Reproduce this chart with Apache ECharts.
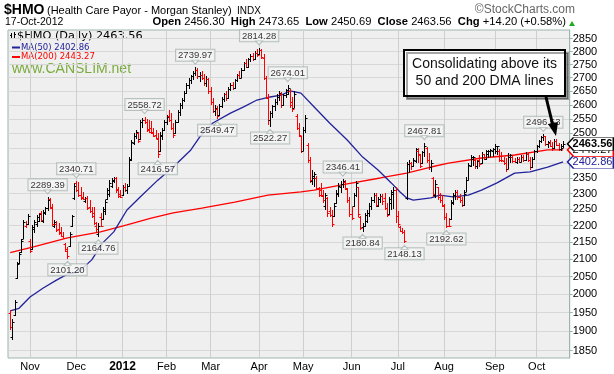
<!DOCTYPE html>
<html><head><meta charset="utf-8">
<script src="https://cdn.jsdelivr.net/npm/echarts@6/dist/echarts.min.js"></script>
<style>html,body{margin:0;padding:0;background:#fff}#c{width:614px;height:374px}</style>
</head><body><div id="c"></div>
<script>
// ---- Daily OHLC bars [open, high, low, close] ----
const oct11 = [[1950,1958,1905,1912],[1885,1932,1878,1925],[1945,1985,1940,1978],[2045,2092,2043,2085],[2088,2120,2085,2115],[2120,2160,2117,2155],[2160,2217,2160,2210],[2200,2214,2193,2205],[2205,2236,2202,2230]];
const nov11 = [[2155,2160,2117,2125],[2130,2202,2128,2195],[2190,2217,2178,2210],[2205,2232,2196,2225],[2215,2240,2210,2235],[2238,2245,2212,2218],[2215,2248,2208,2242],[2240,2257,2232,2254],[2255,2289.39,2245,2280],[2282,2286,2250,2258],[2255,2268,2200,2205],[2200,2217,2193,2212],[2205,2215,2182,2186],[2190,2208,2172,2178],[2180,2195,2165,2168],[2170,2180,2162,2164],[2145,2147,2121,2125],[2130,2135,2101.20,2108],[2140,2180,2136,2175],[2200,2232,2196,2228],[2285,2333,2279,2325]];
const dec11 = [[2335,2340.71,2305,2310],[2310,2337,2289,2295],[2295,2320,2279,2285],[2290,2305,2279,2282],[2275,2289,2270,2287],[2285,2292,2248,2255],[2258,2279,2240,2245],[2245,2257,2223,2228],[2240,2257,2202,2208],[2200,2212,2178,2190],[2175,2207,2164.76,2200],[2225,2240,2196,2198],[2220,2257,2217,2250],[2245,2279,2232,2272],[2282,2318,2279,2312],[2300,2343,2289,2335],[2325,2350,2318,2345],[2340,2353,2334,2350],[2350,2353,2302,2310],[2315,2320,2286,2292],[2300,2311,2286,2290]];
const jan12 = [[2295,2327,2292,2322],[2320,2333,2305,2312],[2312,2330,2300,2325],[2325,2420,2320,2410],[2412,2477,2405,2470],[2468,2500,2460,2492],[2490,2511,2480,2505],[2500,2505,2468,2475],[2480,2546,2478,2540],[2538,2552,2520,2548],[2545,2558.72,2532,2540],[2540,2550,2505,2512],[2515,2546,2500,2505],[2520,2542,2498,2500],[2505,2518,2487,2490],[2495,2511,2482,2485],[2482,2500,2416.57,2430],[2440,2504,2435,2495],[2490,2518,2477,2510],[2512,2546,2508,2540]];
const feb12 = [[2540,2564,2530,2558],[2560,2582,2540,2548],[2548,2570,2511,2520],[2520,2535,2484,2495],[2500,2546,2498,2540],[2540,2582,2535,2575],[2575,2607,2560,2600],[2600,2625,2585,2618],[2618,2650,2610,2645],[2645,2680,2640,2672],[2672,2700,2660,2690],[2690,2712,2675,2705],[2705,2725,2690,2718],[2718,2739.97,2705,2730],[2728,2735,2695,2705],[2705,2720,2685,2712],[2712,2725,2690,2698],[2698,2715,2670,2680],[2680,2705,2665,2695],[2695,2700,2640,2650]];
const mar12 = [[2650,2665,2600,2610],[2610,2625,2570,2580],[2580,2600,2560,2590],[2585,2595,2549.47,2560],[2565,2605,2560,2598],[2598,2630,2590,2622],[2622,2645,2610,2640],[2640,2650,2615,2625],[2625,2665,2620,2660],[2660,2680,2650,2672],[2672,2685,2655,2662],[2662,2695,2658,2690],[2690,2715,2685,2710],[2710,2725,2695,2700],[2700,2735,2698,2730],[2730,2760,2725,2755],[2755,2770,2735,2742],[2742,2775,2738,2770],[2770,2790,2760,2782],[2782,2795,2765,2772],[2772,2800,2768,2795],[2795,2808,2780,2788]];
const apr12 = [[2790,2814.28,2785,2805],[2805,2810,2770,2778],[2775,2790,2690,2700],[2700,2705,2620,2630],[2625,2640,2530,2545],[2545,2580,2522.27,2570],[2570,2600,2555,2595],[2595,2620,2580,2612],[2612,2640,2600,2630],[2630,2650,2615,2645],[2640,2648,2590,2600],[2600,2640,2595,2635],[2635,2660,2625,2655],[2640,2674.01,2636,2662],[2650,2660,2590,2600],[2610,2628,2575,2585],[2590,2652,2588,2640],[2560,2566,2511,2520],[2520,2536,2487,2495],[2490,2490,2432,2440]];
const may12 = [[2440,2522,2438,2512],[2512,2564,2500,2555],[2460,2467,2399,2408],[2408,2419,2335,2342],[2340,2376,2327,2355],[2350,2368,2321,2362],[2350,2355,2311,2318],[2318,2321,2289,2295],[2310,2334,2289,2292],[2295,2311,2270,2278],[2260,2302,2248,2295],[2285,2289,2226,2240],[2245,2257,2226,2232],[2232,2248,2196,2205],[2230,2270,2226,2262],[2270,2311,2268,2302],[2300,2334,2289,2325],[2320,2340,2302,2332],[2332,2346.41,2318,2340],[2338,2344,2311,2318],[2315,2317,2270,2278],[2278,2289,2226,2235]];
const jun12 = [[2235,2257,2217,2222],[2260,2302,2257,2295],[2295,2340,2289,2335],[2320,2321,2226,2235],[2225,2228,2187,2192],[2195,2207,2180.84,2200],[2200,2240,2196,2232],[2215,2248,2208,2240],[2238,2270,2226,2262],[2262,2289,2248,2280],[2278,2302,2270,2295],[2295,2302,2257,2265],[2262,2289,2257,2283],[2283,2300,2270,2292],[2292,2298,2265,2275],[2285,2302,2248,2255],[2255,2270,2226,2232],[2235,2289,2232,2282],[2270,2311,2248,2305],[2300,2321,2250,2310],[2310,2320,2208,2230]];
const jul12 = [[2230,2245,2196,2205],[2195,2198,2180,2185],[2185,2194,2176,2180],[2180,2187,2148.13,2155],[2285,2402,2280,2395],[2395,2409,2366,2400],[2398,2402,2376,2390],[2390,2415,2385,2410],[2405,2450,2399,2445],[2440,2448,2399,2430],[2425,2430,2382,2390],[2400,2440,2395,2435],[2435,2467.81,2420,2455],[2450,2453,2400,2410],[2410,2432,2376,2385],[2385,2409,2370,2400],[2350,2353,2289,2300],[2295,2343,2285,2330],[2320,2321,2279,2290],[2290,2302,2270,2278],[2278,2295,2257,2265]];
const aug12 = [[2262,2268,2217,2225],[2225,2240,2192.62,2200],[2200,2222,2195,2198],[2220,2279,2217,2270],[2272,2302,2265,2295],[2295,2311,2280,2305],[2305,2311,2279,2290],[2290,2300,2270,2280],[2280,2289,2257,2265],[2265,2311,2262,2300],[2305,2353,2305,2345],[2345,2399,2343,2392],[2390,2426,2385,2418],[2412,2422,2390,2420],[2410,2412,2380,2390],[2390,2410,2378,2405],[2410,2426,2386,2395],[2398,2436,2395,2430],[2428,2428,2409,2412],[2412,2443,2409,2438],[2430,2442,2415,2440],[2438,2446,2420,2442],[2440,2450,2418,2445]];
const sep12 = [[2445,2462,2430,2455],[2440,2458,2425,2456],[2440,2445,2402,2410],[2410,2435,2402,2408],[2405,2419,2393,2400],[2400,2415,2370,2378],[2380,2432,2380,2420],[2420,2428,2399,2425],[2420,2425,2399,2405],[2405,2415,2399,2402],[2402,2418,2395,2412],[2412,2420,2398,2403],[2402,2426,2402,2420],[2420,2426,2402,2408],[2410,2436,2405,2430],[2430,2432,2402,2410],[2410,2420,2376,2385],[2385,2419,2383,2412],[2412,2443,2410,2438]];
const oct12 = [[2438,2460,2434,2455],[2455,2477,2450,2472],[2472,2492,2465,2488],[2488,2496.53,2472,2490],[2490,2492,2455,2462],[2462,2475,2450,2470],[2468,2478,2452,2458],[2458,2470,2440,2448],[2448,2480,2445,2475],[2475,2482,2455,2460],[2460,2468,2440,2446],[2446,2462,2440,2449.36],[2456.30,2473.65,2450.69,2463.56]];

// ---- Moving averages read at points along the lines [bar index, value] ----
const ma50Points = [[0,1955],[4,1962],[9,1993],[15,2018],[21,2040],[26,2057],[31,2063],[37,2098],[42,2148],[47,2181],[53,2248],[59,2289],[67,2343],[74,2386],[82,2443],[86,2487],[92,2536],[100,2571],[106,2593],[112,2618],[118,2629],[123,2636],[127,2651],[132,2643],[138,2593],[145,2536],[153,2477],[160,2419],[167,2376],[173,2334],[177,2305],[180,2286],[183,2279],[191,2286],[195,2295],[201,2289],[208,2295],[214,2311],[221,2334],[229,2366],[236,2370],[244,2386],[251,2402.86]];
const ma200Points = [[0,2119],[11,2137],[26,2163],[41,2181],[53,2202],[64,2223],[74,2239],[87,2254],[102,2273],[117,2295],[132,2305],[138,2311],[153,2331],[168,2350],[180,2366],[191,2386],[199,2399],[214,2416],[229,2426],[244,2443],[251,2443.27]];

// ---- Annotated highs / lows [bar index, value] ----
const highLabels = [[17,2289.39],[30,2340.71],[61,2558.72],[84,2739.97],[113,2814.28],[126,2674.01],[151,2346.41],[188,2467.81],[242,2496.53]];
const lowLabels = [[26,2101.20],[40,2164.76],[67,2416.57],[94,2549.47],[118,2522.27],[160,2180.84],[179,2148.13],[198,2192.62]];

// ---- Axis ticks / calendar ----
const yTickValues = [1850,1900,1950,2000,2050,2100,2150,2200,2250,2300,2350,2400,2450,2500,2550,2600,2650,2700,2750,2800,2850];
const yLabelValues = [1850,1900,1950,2000,2050,2100,2150,2200,2250,2300,2350,2500,2550,2600,2650,2700,2750,2800,2850];
const monthLabels = ['2012','Feb','Mar','Apr','May','Jun','Jul','Aug','Sep','Oct','Nov','Dec'];
const holidays = ['2011-11-24','2011-12-26','2012-01-02','2012-01-16','2012-02-20','2012-04-06','2012-05-28','2012-07-04','2012-09-03'];
const lastClose = 2463.56, lastMA50 = 2402.86, lastMA200 = 2443.27;

const dates = [];
(function(){
  let t = Date.UTC(2011,9,19); const end = Date.UTC(2012,9,17);
  while (t <= end) {
    const d = new Date(t); const wd = d.getUTCDay(); const s = d.toISOString().slice(0,10);
    if (wd !== 0 && wd !== 6 && holidays.indexOf(s) < 0) dates.push(s);
    t += 86400000;
  }
})();
const bars = [].concat(oct11,nov11,dec11,jan12,feb12,mar12,apr12,may12,jun12,jul12,aug12,sep12,oct12);
const cats = [''].concat(dates, ['','','']);
const monthStart = {};
for (let d = 1; d < dates.length; d++) {
  const m = +dates[d].slice(5,7), pm = +dates[d-1].slice(5,7);
  if (m !== pm) monthStart[d+1] = monthLabels[m-1];
}
const ohlcData = bars.map((b,i) => [i+1, b[0], b[1], b[2], b[3], (i === 0 ? b[3] < b[0] : b[3] < bars[i-1][3]) ? 1 : 0]);

function renderOHLC(params, api) {
  const k = api.value(0);
  const pH = api.coord([k, api.value(2)]), pL = api.coord([k, api.value(3)]);
  const pO = api.coord([k, api.value(1)]), pC = api.coord([k, api.value(4)]);
  const col = api.value(5) === 1 ? '#ff0000' : '#000000';
  const x = Math.round(pH[0]) + 0.5;
  const yO = Math.round(pO[1]) + 0.5, yC = Math.round(pC[1]) + 0.5;
  const st = {stroke: col, lineWidth: 1};
  return {type:'group', children:[
    {type:'line', shape:{x1:x, y1:Math.round(pH[1]), x2:x, y2:Math.max(Math.round(pL[1]), Math.round(pH[1])+1)}, style:st},
    {type:'line', shape:{x1:x-2, y1:yO, x2:x, y2:yO}, style:st},
    {type:'line', shape:{x1:x, y1:yC, x2:x+2, y2:yC}, style:st}
  ]};
}

const FONT = 'Liberation Sans, Arial, sans-serif';
const labelStyle = {show:true, fontFamily:FONT, fontSize:9.5, color:'#000', backgroundColor:'#f6f6f6', borderColor:'#a8b4b0', borderWidth:1, padding:[1,2,0,2], formatter: p => p.value[1].toFixed(2)};

function valueBox(val, border, textColor, weight, z) {
  return {type:'scatter', data:[[254, val]], clip:false, silent:true, z:z,
    symbol:'path://M0,6L6,0L46,0L46,12L6,12Z', symbolSize:[46,13], symbolOffset:[23,0], symbolKeepAspect:false,
    itemStyle:{color:'#ffffff', borderColor:border, borderWidth:1, opacity:1},
    label:{show:true, position:'inside', offset:[2,0], formatter: val.toFixed(2), color:textColor, fontWeight:weight, fontSize:11, fontFamily:FONT}};
}
function pointerSeries(points, up) {
  return {type:'scatter', data:points.map(p=>[p[0]+1,p[1]]), silent:true, z:7,
    symbol:'triangle', symbolSize:[7,4], symbolRotate: up ? 0 : 180, symbolOffset:[0, up ? 4.5 : -5],
    itemStyle:{color:'#f6f6f6', borderColor:'#a8b4b0', borderWidth:1}};
}

const graphics = [
  {type:'text', left:4, top:3, style:{text:'$HMO', font:'bold 14px ' + FONT, fill:'#000'}},
  {type:'text', left:47, top:5, style:{text:'(Health Care Payor - Morgan Stanley)', font:'11px ' + FONT, fill:'#000'}},
  {type:'text', left:237, top:6, style:{text:'INDX', font:'10px ' + FONT, fill:'#000'}},
  {type:'text', right:39, top:4, style:{text:'\u00A9StockCharts.com', font:'12px ' + FONT, fill:'#666'}},
  {type:'text', left:5, top:17, style:{text:'17-Oct-2012', font:'10.5px ' + FONT, fill:'#000'}},
  {type:'text', right:48, top:16.5, style:{
    text:'{b|Open} 2456.30  {b|High} 2473.65  {b|Low} 2450.69  {b|Close} 2463.56  {b|Chg} +14.20 (+0.58%)',
    font:'11.2px ' + FONT, fill:'#000', rich:{b:{fontWeight:'bold', fontSize:11.2, fontFamily:FONT}}}},
  {type:'polygon', shape:{points:[[569,26],[575,26],[572,21]]}, style:{fill:'#22aa22'}},
  // legend
  {type:'line', shape:{x1:11.5, y1:33, x2:11.5, y2:39}, style:{stroke:'#000', lineWidth:1}},
  {type:'line', shape:{x1:10, y1:35.5, x2:11.5, y2:35.5}, style:{stroke:'#000', lineWidth:1}},
  {type:'line', shape:{x1:14.5, y1:32, x2:14.5, y2:38}, style:{stroke:'#000', lineWidth:1}},
  {type:'line', shape:{x1:14.5, y1:34.5, x2:16, y2:34.5}, style:{stroke:'#000', lineWidth:1}},
  {type:'text', left:17, top:30.5, style:{text:'$HMO (Daily) ' + lastClose.toFixed(2), font:'11.3px DejaVu Sans, sans-serif', fill:'#000'}},
  {type:'line', shape:{x1:12, y1:47.5, x2:20, y2:47.5}, style:{stroke:'#22229a', lineWidth:2}},
  {type:'text', left:21, top:43, style:{text:'MA(50) ' + lastMA50.toFixed(2), font:'8.5px DejaVu Sans, sans-serif', fill:'#22229a'}},
  {type:'line', shape:{x1:12, y1:57, x2:20, y2:57}, style:{stroke:'#ff0000', lineWidth:2}},
  {type:'text', left:21, top:52.5, style:{text:'MA(200) ' + lastMA200.toFixed(2), font:'8.5px DejaVu Sans, sans-serif', fill:'#ff0000'}},
  {type:'text', left:12, top:62, style:{text:'www.CANSLIM.net', font:'14px ' + FONT, fill:'#7aab3c'}},
  // annotation
  {type:'rect', shape:{x:404, y:50, width:161, height:46}, style:{fill:'#fff', stroke:'#000', lineWidth:2, shadowColor:'rgba(0,0,0,0.35)', shadowOffsetX:3, shadowOffsetY:3, shadowBlur:0}, z:20},
  {type:'text', x:484.5, y:64, style:{text:'Consolidating above its', font:'14px ' + FONT, fill:'#111', align:'center', verticalAlign:'middle'}, z:21},
  {type:'text', x:484.5, y:81, style:{text:'50 and 200 DMA lines', font:'14px ' + FONT, fill:'#111', align:'center', verticalAlign:'middle'}, z:21},
  {type:'line', shape:{x1:546, y1:97, x2:553, y2:126}, style:{stroke:'#000', lineWidth:3}, z:21},
  {type:'polygon', shape:{points:[[548,124],[558,122],[556,136]]}, style:{fill:'#000'}, z:21}
];
if (bars.length !== dates.length) graphics.push({type:'text', left:200, top:200, style:{text:'MISMATCH ' + bars.length + ' vs ' + dates.length, font:'bold 20px sans-serif', fill:'#f0f'}, z:99});

const chart = echarts.init(document.getElementById('c'), null, {renderer:'canvas'});
chart.setOption({
  animation:false,
  backgroundColor:'#ffffff',
  grid:{left:8, right:44.3, top:30, bottom:16, show:true, backgroundColor:'#efefef', borderColor:'#9cb5ae', borderWidth:1},
  xAxis:{type:'category', data:cats, boundaryGap:false,
    axisLine:{show:false}, axisTick:{show:false},
    axisLabel:{interval:(i)=>monthStart[i] !== undefined, formatter:(v,i)=> monthStart[i] === '2012' ? '{b|2012}' : (monthStart[i] || ''),
      color:'#000', fontSize:11, fontFamily:FONT, margin:3, rich:{b:{fontWeight:'bold', fontSize:12, fontFamily:FONT}}},
    splitLine:{show:true, interval:(i)=>monthStart[i] !== undefined, lineStyle:{color:'#cfcfcf', width:1}}},
  yAxis:{type:'log', logBase:10, min:1831.4, max:2884.6, position:'right',
    axisLine:{show:true, lineStyle:{color:'#9cb5ae'}},
    axisTick:{show:true, length:3, customValues:yTickValues, lineStyle:{color:'#9cb5ae'}},
    axisLabel:{customValues:yLabelValues, formatter:(v)=>String(Math.round(v)), color:'#000', fontSize:11, fontFamily:FONT, margin:3},
    splitLine:{show:true, lineStyle:{color:'#d8d8d8', width:1}},
    minorTick:{show:false}, minorSplitLine:{show:false}},
  graphic: graphics,
  series:[
    {type:'line', data:ma200Points.map(p=>[p[0]+1,p[1]]), showSymbol:false, symbol:'none', connectNulls:true, lineStyle:{color:'#ff0000', width:1.3}, z:3, silent:true},
    {type:'line', data:ma50Points.map(p=>[p[0]+1,p[1]]), showSymbol:false, symbol:'none', connectNulls:true, lineStyle:{color:'#22229a', width:1.3}, z:3, silent:true},
    {type:'custom', renderItem:renderOHLC, data:ohlcData, encode:{x:0, y:[1,2,3,4]}, z:4, silent:true},
    {type:'scatter', data:highLabels.map(p=>[p[0]+1,p[1]]), symbolSize:1, itemStyle:{color:'rgba(0,0,0,0)'}, silent:true, z:6,
      label:Object.assign({}, labelStyle, {position:'top', distance:6})},
    {type:'scatter', data:lowLabels.map(p=>[p[0]+1,p[1]]), symbolSize:1, itemStyle:{color:'rgba(0,0,0,0)'}, silent:true, z:6,
      label:Object.assign({}, labelStyle, {position:'bottom', distance:5})},
    pointerSeries(highLabels, false),
    pointerSeries(lowLabels, true),
    valueBox(lastMA50, '#22229a', '#22229a', 'normal', 7),
    valueBox(lastMA200, '#ff0000', '#000000', 'normal', 8),
    valueBox(lastClose, '#000000', '#000000', 'bold', 9)
  ]
});
</script></body></html>
